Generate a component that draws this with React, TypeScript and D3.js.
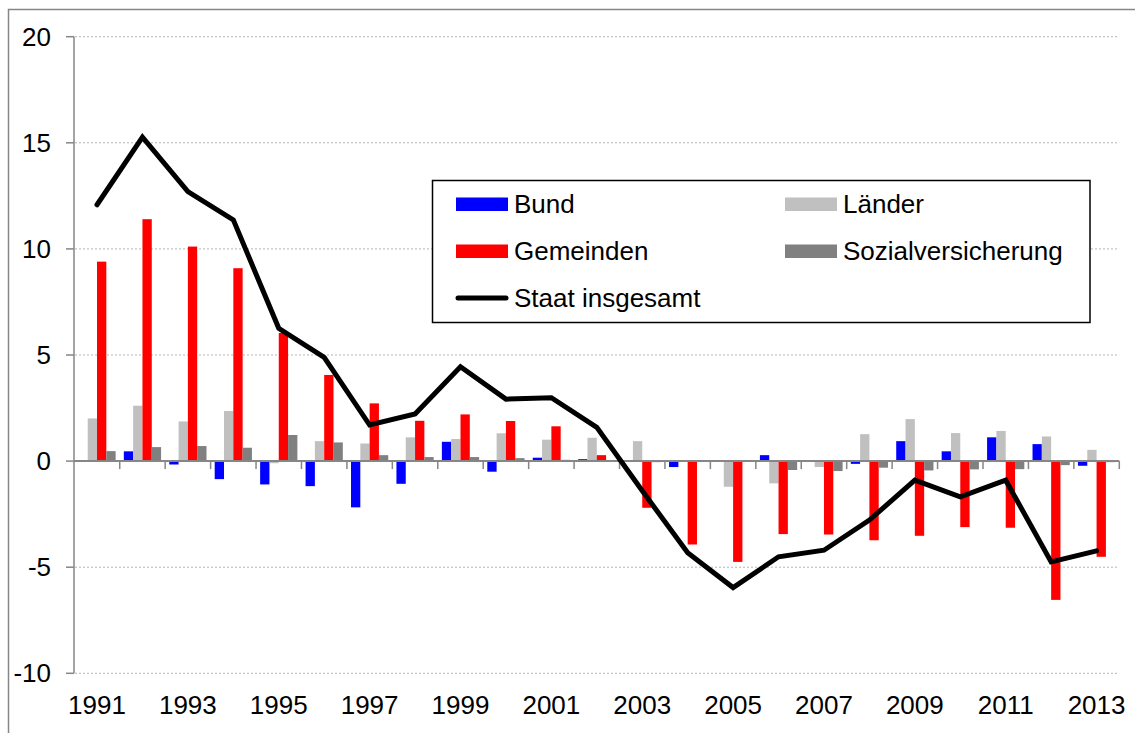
import React from 'react';
import * as d3 from 'd3';

const years = ['1991', '1992', '1993', '1994', '1995', '1996', '1997', '1998', '1999', '2000', '2001', '2002',
    '2003', '2004', '2005', '2006', '2007', '2008', '2009', '2010', '2011', '2012', '2013'];

const bund = [0.03, 0.46, -0.16, -0.85, -1.1, -1.18, -2.18, -1.07, 0.91, -0.5, 0.16, 0.09,
    -0.03, -0.28, -0.02, 0.28, -0.02, -0.13, 0.94, 0.46, 1.12, 0.8, -0.22];
const laender = [2.01, 2.61, 1.87, 2.36, -0.1, 0.94, 0.83, 1.12, 1.04, 1.31, 1.01, 1.1,
    0.94, -0.02, -1.21, -1.05, -0.28, 1.27, 1.98, 1.32, 1.42, 1.16, 0.53];
const gemeinden = [9.4, 11.4, 10.11, 9.09, 6.04, 4.06, 2.72, 1.9, 2.2, 1.89, 1.64, 0.28,
    -2.2, -3.93, -4.75, -3.44, -3.46, -3.73, -3.52, -3.11, -3.14, -6.54, -4.51];
const sozial = [0.47, 0.66, 0.71, 0.63, 1.23, 0.88, 0.28, 0.19, 0.19, 0.14, 0.06, 0.02,
    -0.05, -0.03, 0, -0.42, -0.47, -0.31, -0.44, -0.39, -0.38, -0.19, -0.05];
const staat = [12.08, 15.27, 12.7, 11.37, 6.26, 4.89, 1.7, 2.22, 4.45, 2.92, 2.99, 1.59,
    -1.4, -4.32, -5.96, -4.51, -4.2, -2.78, -0.9, -1.68, -0.9, -4.75, -4.23];

const yTicks = [-10, -5, 0, 5, 10, 15, 20];

const barSeries = [
    { key: 'Bund', values: bund, color: '#0000ff' },
    { key: 'Länder', values: laender, color: '#c0c0c0' },
    { key: 'Gemeinden', values: gemeinden, color: '#ff0000' },
    { key: 'Sozialversicherung', values: sozial, color: '#808080' },
];

const font = '"Liberation Sans", Arial, sans-serif';
const fs = 26;

export default function App() {
    const width = 1135;
    const height = 733;

    const x = d3.scaleBand().domain(years).range([74.3, 1119.3]);
    const xs = d3.scaleBand().domain(barSeries.map(s => s.key)).range([0, x.bandwidth()]).paddingOuter(0.44);
    const y = d3.scaleLinear().domain([-10, 20]).range([673.3, 36.7]);

    const line = d3.line<number>()
        .x((d, i) => x(years[i])! + x.bandwidth() / 2)
        .y(d => y(d));

    const bw = x.bandwidth();
    const boundaries = d3.range(years.length + 1).map(i => 74.3 + i * bw);

    // legend layout
    const legendItems = [
        { key: 'Bund', color: '#0000ff', col: 0, row: 0 },
        { key: 'Länder', color: '#c0c0c0', col: 1, row: 0 },
        { key: 'Gemeinden', color: '#ff0000', col: 0, row: 1 },
        { key: 'Sozialversicherung', color: '#808080', col: 1, row: 1 },
    ];
    const colX = [456, 785];
    const rowY = [204, 251, 298];

    return (
        <div style={{ position: 'absolute', left: 0, top: 0 }}>
            <svg width={width} height={height} style={{ display: 'block', background: '#fff' }}>
                <rect x={8.5} y={9.5} width={1200} height={800} fill="none" stroke="#868686" strokeWidth={1.5} />

                {/* gridlines */}
                {yTicks.filter(t => t !== 0).map(t => (
                    <line key={'g' + t} x1={75} x2={1119} y1={y(t)} y2={y(t)}
                        stroke="#b4b4b4" strokeWidth={1} strokeDasharray="2,2" />
                ))}

                {/* bars */}
                {barSeries.map(s => (
                    <g key={s.key} fill={s.color}>
                        {s.values.map((v, i) => (
                            <rect key={i}
                                x={x(years[i])! + xs(s.key)!}
                                width={xs.bandwidth()}
                                y={y(Math.max(0, v))}
                                height={Math.abs(y(v) - y(0))} />
                        ))}
                    </g>
                ))}

                {/* y axis */}
                <line x1={74} x2={74} y1={y(20)} y2={y(-10)} stroke="#868686" strokeWidth={1.5} />
                {yTicks.map(t => (
                    <g key={'t' + t}>
                        <line x1={66} x2={74} y1={y(t)} y2={y(t)} stroke="#868686" strokeWidth={1.5} />
                        <text x={51} y={y(t)} dy="0.35em" textAnchor="end" fontFamily={font} fontSize={fs} fill="#000">{t}</text>
                    </g>
                ))}

                {/* zero axis with category ticks */}
                <line x1={74} x2={1119.3} y1={y(0)} y2={y(0)} stroke="#868686" strokeWidth={2} />
                {boundaries.slice(1).map((b, i) => (
                    <line key={'c' + i} x1={b} x2={b} y1={y(0)} y2={y(0) + 8} stroke="#868686" strokeWidth={1.5} />
                ))}

                {/* category labels */}
                {years.map((yr, i) => i % 2 === 0 ? (
                    <text key={yr} x={x(yr)! + bw / 2} y={714} textAnchor="middle" fontFamily={font} fontSize={fs} fill="#000">{yr}</text>
                ) : null)}

                {/* total line */}
                <path d={line(staat)!} fill="none" stroke="#000" strokeWidth={5} strokeLinecap="round" />

                {/* legend */}
                <rect x={432.5} y={180.5} width={657.5} height={142} fill="#fff" stroke="#000" strokeWidth={1.5} />
                {legendItems.map(it => (
                    <g key={it.key}>
                        <rect x={colX[it.col]} y={rowY[it.row] - 6.5} width={52} height={13.5} fill={it.color} />
                        <text x={colX[it.col] + 58} y={rowY[it.row]} dy="0.35em" fontFamily={font} fontSize={fs} fill="#000">{it.key}</text>
                    </g>
                ))}
                <line x1={458} x2={506} y1={rowY[2]} y2={rowY[2]} stroke="#000" strokeWidth={5} strokeLinecap="round" />
                <text x={514} y={rowY[2]} dy="0.35em" fontFamily={font} fontSize={fs} fill="#000">Staat insgesamt</text>
            </svg>
        </div>
    );
}
